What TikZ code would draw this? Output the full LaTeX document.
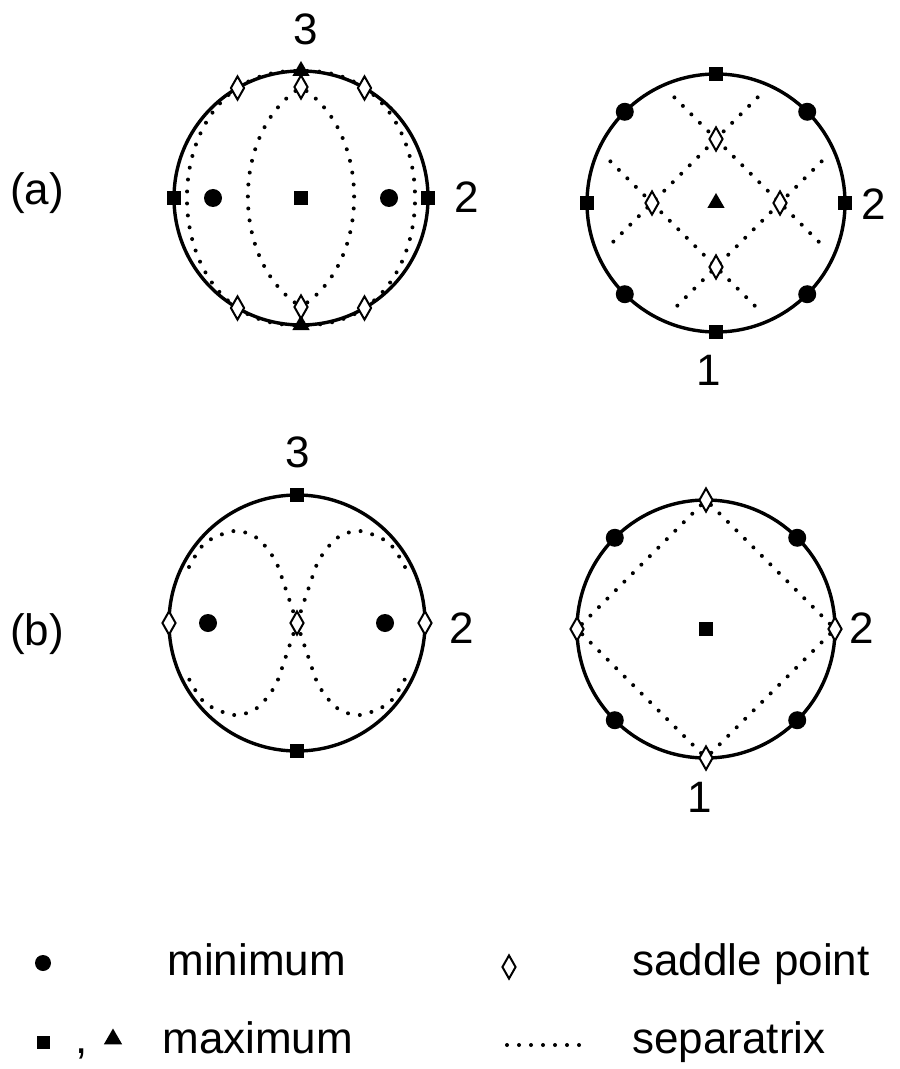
\documentclass[tikz,border=0pt]{standalone}
\usepackage{fontspec}
\setmainfont{Liberation Sans}
\usepackage{tikz}
\usetikzlibrary{shapes.geometric,calc}
\pgfdeclarelayer{bg}
\pgfsetlayers{bg,main}

\tikzset{
  ring/.style={draw, circle, line width=1.7pt, inner sep=0pt, outer sep=0pt, minimum size=#1},
  minpt/.style={circle, fill, inner sep=0pt, minimum size=9pt},
  maxsq/.style={rectangle, fill, inner sep=0pt, minimum size=7pt},
  maxtri/.style={regular polygon, regular polygon sides=3, fill, inner sep=0pt, minimum size=10pt},
  saddle/.style={diamond, draw, fill=white, line width=1pt, inner sep=0pt, minimum width=7pt, minimum height=12pt},
  sep/.style={line width=2pt, line cap=round, dash pattern=on 0pt off 6pt},
  lbl/.style={anchor=base, inner sep=0pt},
}

\begin{document}
\begin{tikzpicture}[x=0.5pt,y=-0.5pt,font=\fontsize{22}{26}\selectfont]
  \useasboundingbox (0,0) rectangle (899,1069);

  % row (a), left
  \node[ring=127pt] (A1) at (301,198) {};
  \node[maxtri] (A1tT) at (A1.north) {};
  \node[maxtri] (A1tB) at (A1.south) {};
  \node[maxsq] (A1qW) at (A1.west) {};
  \node[maxsq] (A1qE) at (A1.east) {};
  \node[maxsq] (A1qC) at (A1) {};
  \node[minpt] (A1mW) at ($(A1)+(-88,0)$) {};
  \node[minpt] (A1mE) at ($(A1)+(88,0)$) {};
  \node[saddle] (A1sT) at ($(A1)+(0,-111)$) {};
  \node[saddle] (A1sB) at ($(A1)+(0,109)$) {};
  \foreach \a in {60,120,240,300}
    \node[saddle] (A1s\a) at (A1.\a) {};
  \begin{pgfonlayer}{bg}
    \draw[sep] (A1tT) .. controls +(-150,0) and +(-150,0) .. (A1tB);
    \draw[sep] (A1tT) .. controls +(150,0) and +(150,0) .. (A1tB);
    \draw[sep] (A1sT) .. controls +(-69,50) and +(-69,-50) .. (A1sB);
    \draw[sep] (A1sT) .. controls +(69,50) and +(69,-50) .. (A1sB);
  \end{pgfonlayer}

  % row (a), right
  \node[ring=129pt] (A2) at (716,203) {};
  \node[maxsq] (A2qN) at (A2.north) {};
  \node[maxsq] (A2qS) at (A2.south) {};
  \node[maxsq] (A2qW) at (A2.west) {};
  \node[maxsq] (A2qE) at (A2.east) {};
  \foreach \a in {45,135,225,315}
    \node[minpt] (A2m\a) at (A2.\a) {};
  \node[maxtri] (A2tC) at (A2) {};
  \node[saddle] (A2sN) at ($(A2)+(0,-64)$) {};
  \node[saddle] (A2sS) at ($(A2)+(0,64)$) {};
  \node[saddle] (A2sW) at ($(A2)+(-64,0)$) {};
  \node[saddle] (A2sE) at ($(A2)+(64,0)$) {};
  \begin{pgfonlayer}{bg}
    \draw[sep] ($(A2sN)!-0.65!(A2sE)$) -- ($(A2sE)!-0.65!(A2sN)$);
    \draw[sep] ($(A2sW)!-0.65!(A2sS)$) -- ($(A2sS)!-0.65!(A2sW)$);
    \draw[sep] ($(A2sN)!-0.65!(A2sW)$) -- ($(A2sW)!-0.65!(A2sN)$);
    \draw[sep] ($(A2sE)!-0.65!(A2sS)$) -- ($(A2sS)!-0.65!(A2sE)$);
  \end{pgfonlayer}

  % row (b), left
  \node[ring=128pt] (B1) at (297,623) {};
  \node[maxsq] (B1qN) at (B1.north) {};
  \node[maxsq] (B1qS) at (B1.south) {};
  \node[saddle] (B1sW) at (B1.west) {};
  \node[saddle] (B1sE) at (B1.east) {};
  \node[saddle] (B1sC) at (B1) {};
  \node[minpt] (B1mW) at ($(B1)+(-89,0)$) {};
  \node[minpt] (B1mE) at ($(B1)+(88,0)$) {};
  \begin{pgfonlayer}{bg}
    \begin{scope}[shift={(B1)}]
      \draw[sep] plot[smooth] coordinates {(-108,-56) (-92,-80) (-63,-92) (-40,-85) (-22,-63) (-12,-36) (0,0) (12,36) (22,63) (40,85) (63,92) (92,80) (108,56)};
      \draw[sep] plot[smooth] coordinates {(108,-56) (92,-80) (63,-92) (40,-85) (22,-63) (12,-36) (0,0) (-12,36) (-22,63) (-40,85) (-63,92) (-92,80) (-108,56)};
    \end{scope}
  \end{pgfonlayer}

  % row (b), right
  \node[ring=129pt] (B2) at (706,629) {};
  \node[saddle] (B2sN) at (B2.north) {};
  \node[saddle] (B2sS) at (B2.south) {};
  \node[saddle] (B2sW) at (B2.west) {};
  \node[saddle] (B2sE) at (B2.east) {};
  \foreach \a in {45,135,225,315}
    \node[minpt] (B2m\a) at (B2.\a) {};
  \node[maxsq] (B2qC) at (B2) {};
  \begin{pgfonlayer}{bg}
    \draw[sep] (B2sN) -- (B2sE) -- (B2sS) -- (B2sW) -- (B2sN);
  \end{pgfonlayer}

  % labels
  \node[lbl] (labA) at (37,205) {(a)};
  \node[lbl] (labB) at (37,645) {(b)};
  \node[lbl] (A1n3) at (306,45) {3};
  \node[lbl] (A1n2) at (467,213) {2};
  \node[lbl] (A2n2) at (874,220) {2};
  \node[lbl] (A2n1) at (709,385) {1};
  \node[lbl] (B1n3) at (298,467) {3};
  \node[lbl] (B1n2) at (462,643) {2};
  \node[lbl] (B2n2) at (862,643) {2};
  \node[lbl] (B2n1) at (700,812) {1};

  % key
  \node[minpt, minimum size=8pt] (keyMin) at (43,963) {};
  \node[lbl, anchor=base west] (keyMinT) at (167,975) {minimum};
  \node[maxsq, minimum size=6.5pt] (keyMaxQ) at (43,1042) {};
  \node[lbl] (keyComma) at (82,1053) {,};
  \node[maxtri, minimum size=10.5pt] (keyMaxT) at (113,1039) {};
  \node[lbl, anchor=base west] (keyMaxTxt) at (162,1053) {maximum};
  \node[saddle] (keySad) at (509,967) {};
  \node[lbl, anchor=base west] (keySadT) at (632,975) {saddle point};
  \coordinate (keySepL) at (507,1045);
  \coordinate (keySepR) at (580,1045);
  \draw[sep] (keySepL) -- (keySepR);
  \node[lbl, anchor=base west] (keySepT) at (632,1053) {separatrix};
\end{tikzpicture}
\end{document}
